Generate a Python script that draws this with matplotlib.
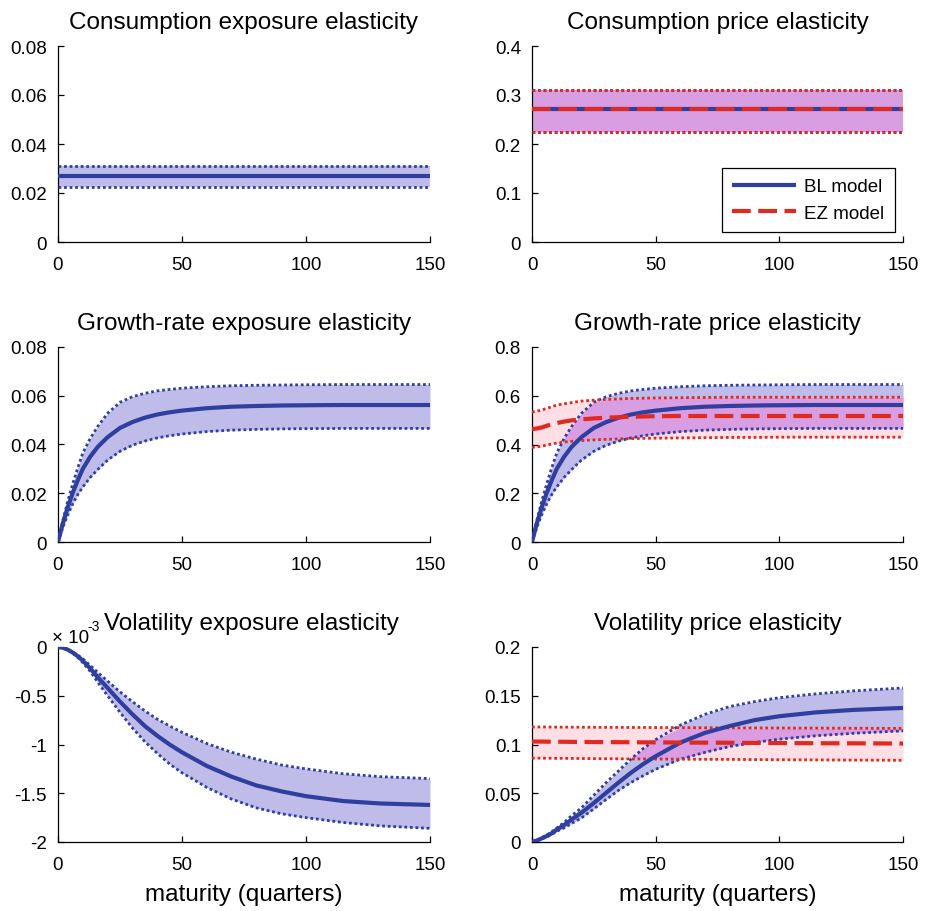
import numpy as np
import matplotlib
matplotlib.use("Agg")
import matplotlib.pyplot as plt
from matplotlib.ticker import FuncFormatter, FixedLocator

plt.rcParams['font.family'] = ['Liberation Sans', 'DejaVu Sans']
plt.rcParams['axes.unicode_minus'] = False

# ---------------- data ----------------
maturity = [0, 2, 4, 6, 8, 10, 13, 16, 20, 25, 30, 35, 40, 45, 50, 60, 70, 80, 90, 100, 115, 130, 150]
cons_maturity = [0, 150]

# Consumption exposure elasticity (BL)
cons_exp_mean = [0.0271, 0.0271]
cons_exp_upper = [0.0309, 0.0309]
cons_exp_lower = [0.0226, 0.0226]

# Consumption price elasticity (BL and EZ)
cons_price_bl_mean = [0.271, 0.271]
cons_price_bl_upper = [0.311, 0.311]
cons_price_bl_lower = [0.225, 0.225]
cons_price_ez_mean = [0.271, 0.271]
cons_price_ez_upper = [0.311, 0.311]
cons_price_ez_lower = [0.225, 0.225]

# Growth-rate exposure elasticity (BL)
growth_exp_mean = [0, 0.0078, 0.0145, 0.0203, 0.0254, 0.0300, 0.0350, 0.0390, 0.0430, 0.0468, 0.0492, 0.0510,
                   0.0523, 0.0532, 0.0539, 0.0549, 0.0555, 0.0558, 0.0560, 0.0561, 0.0562, 0.0562, 0.0562]
growth_exp_upper = [0, 0.0090, 0.0170, 0.0240, 0.0305, 0.0365, 0.0425, 0.0474, 0.0528, 0.0573, 0.0596, 0.0610,
                    0.0620, 0.0626, 0.0631, 0.0637, 0.0641, 0.0643, 0.0644, 0.0645, 0.0646, 0.0646, 0.0646]
growth_exp_lower = [0, 0.0062, 0.0113, 0.0158, 0.0195, 0.0226, 0.0265, 0.0297, 0.0336, 0.0372, 0.0397, 0.0414,
                    0.0427, 0.0436, 0.0443, 0.0453, 0.0459, 0.0462, 0.0464, 0.0465, 0.0466, 0.0466, 0.0466]

# Growth-rate price elasticity
growth_price_bl_mean = [0, 0.078, 0.145, 0.203, 0.254, 0.300, 0.350, 0.390, 0.430, 0.468, 0.492, 0.510,
                        0.523, 0.532, 0.539, 0.549, 0.555, 0.558, 0.560, 0.561, 0.562, 0.562, 0.562]
growth_price_bl_upper = [0, 0.090, 0.170, 0.240, 0.305, 0.365, 0.425, 0.474, 0.528, 0.573, 0.596, 0.610,
                         0.620, 0.626, 0.631, 0.637, 0.641, 0.643, 0.644, 0.645, 0.646, 0.646, 0.646]
growth_price_bl_lower = [0, 0.062, 0.113, 0.158, 0.195, 0.226, 0.265, 0.297, 0.336, 0.372, 0.397, 0.414,
                         0.427, 0.436, 0.443, 0.453, 0.459, 0.462, 0.464, 0.465, 0.466, 0.466, 0.466]
growth_price_ez_mean = [0.463, 0.466, 0.470, 0.477, 0.483, 0.488, 0.494, 0.499, 0.503, 0.507, 0.510, 0.512,
                        0.514, 0.515, 0.516, 0.517, 0.517, 0.517, 0.517, 0.517, 0.517, 0.517, 0.517]
growth_price_ez_upper = [0.533, 0.537, 0.542, 0.548, 0.555, 0.562, 0.567, 0.572, 0.578, 0.582, 0.585, 0.587,
                         0.589, 0.590, 0.591, 0.592, 0.593, 0.594, 0.594, 0.594, 0.594, 0.594, 0.594]
growth_price_ez_lower = [0.388, 0.390, 0.393, 0.398, 0.402, 0.406, 0.410, 0.413, 0.416, 0.419, 0.421, 0.423,
                         0.424, 0.425, 0.426, 0.427, 0.428, 0.429, 0.429, 0.430, 0.430, 0.430, 0.430]

# Volatility exposure elasticity (BL), in units of 1e-3
vol_exp_mean = [0, -0.008, -0.028, -0.058, -0.095, -0.14, -0.22, -0.31, -0.42, -0.56, -0.69, -0.81,
                -0.91, -1.00, -1.08, -1.22, -1.33, -1.42, -1.48, -1.53, -1.58, -1.605, -1.62]
vol_exp_upper = [0, -0.007, -0.025, -0.052, -0.085, -0.12, -0.19, -0.26, -0.35, -0.46, -0.56, -0.655,
                 -0.74, -0.81, -0.875, -0.99, -1.08, -1.15, -1.21, -1.25, -1.30, -1.33, -1.35]
vol_exp_lower = [0, -0.009, -0.031, -0.065, -0.108, -0.16, -0.25, -0.36, -0.50, -0.67, -0.83, -0.97,
                 -1.09, -1.20, -1.29, -1.44, -1.56, -1.65, -1.71, -1.75, -1.80, -1.835, -1.86]

# Volatility price elasticity
vol_price_bl_mean = [0, 0.0015, 0.0038, 0.0062, 0.0090, 0.0127, 0.0175, 0.023, 0.030, 0.040, 0.0505, 0.061,
                     0.071, 0.080, 0.088, 0.102, 0.112, 0.119, 0.125, 0.129, 0.133, 0.1355, 0.1375]
vol_price_bl_upper = [0, 0.0017, 0.0045, 0.0072, 0.0105, 0.0144, 0.020, 0.027, 0.035, 0.048, 0.061, 0.073,
                      0.085, 0.096, 0.105, 0.120, 0.131, 0.139, 0.144, 0.148, 0.152, 0.155, 0.158]
vol_price_bl_lower = [0, 0.0013, 0.0032, 0.0052, 0.0078, 0.0110, 0.0145, 0.019, 0.0247, 0.034, 0.0436, 0.053,
                      0.061, 0.068, 0.0746, 0.085, 0.092, 0.098, 0.102, 0.1055, 0.109, 0.1115, 0.114]
vol_price_ez_mean = [0.1030, 0.1030, 0.1030, 0.1029, 0.1029, 0.1028, 0.1028, 0.1027, 0.1026, 0.1025, 0.1024, 0.1024,
                     0.1023, 0.1022, 0.1022, 0.1020, 0.1019, 0.1018, 0.1016, 0.1015, 0.1013, 0.1012, 0.1010]
vol_price_ez_upper = [0.1180, 0.1180, 0.1180, 0.1179, 0.1179, 0.1178, 0.1178, 0.1178, 0.1177, 0.1177, 0.1176, 0.1176,
                      0.1175, 0.1175, 0.1174, 0.1173, 0.1172, 0.1171, 0.1170, 0.1169, 0.1168, 0.1167, 0.1165]
vol_price_ez_lower = [0.0860, 0.0860, 0.0860, 0.0859, 0.0859, 0.0858, 0.0858, 0.0857, 0.0856, 0.0855, 0.0854, 0.0853,
                      0.0852, 0.0852, 0.0851, 0.0849, 0.0848, 0.0847, 0.0845, 0.0844, 0.0842, 0.0840, 0.0838]

titles = ["Consumption exposure elasticity", "Consumption price elasticity",
          "Growth-rate exposure elasticity", "Growth-rate price elasticity",
          "Volatility exposure elasticity", "Volatility price elasticity"]
x_ticks = [0, 50, 100, 150]
y_ticks = [[0, 0.02, 0.04, 0.06, 0.08], [0, 0.1, 0.2, 0.3, 0.4],
           [0, 0.02, 0.04, 0.06, 0.08], [0, 0.2, 0.4, 0.6, 0.8],
           [-2, -1.5, -1, -0.5, 0], [0, 0.05, 0.1, 0.15, 0.2]]
xlabel = "maturity (quarters)"
legend_labels = ["BL model", "EZ model"]

# ---------------- style ----------------
BLUE = "#2e3f9f"
RED = "#e0291f"
LAV = "#c0bcea"
PINK = "#ffdfe6"
PURP = "#d99ee1"
TICK_FS = 13.5
TITLE_FS = 17.5

fig = plt.figure(figsize=(9.26, 9.12), dpi=100)
W, H = 926.0, 912.0
col_x = [(58, 430), (532, 903)]
row_y = [(47, 243), (348, 543), (648, 843)]
axes = []
for r in range(3):
    for c in range(2):
        x0, x1 = col_x[c]
        t, b = row_y[r]
        ax = fig.add_axes([x0 / W, (H - b) / H, (x1 - x0) / W, (b - t) / H])
        axes.append(ax)


def band(ax, x, lo, hi, fill):
    ax.fill_between(x, lo, hi, color=fill, linewidth=0, zorder=1)


def overlap(ax, x, lo1, hi1, lo2, hi2):
    lo = np.maximum(lo1, lo2)
    hi = np.minimum(hi1, hi2)
    ax.fill_between(x, lo, hi, where=hi >= lo, interpolate=True, color=PURP,
                    linewidth=0, zorder=2)


def dotted(ax, x, y, col):
    ax.plot(x, y, color=col, linestyle=(0, (1.0, 1.0)), linewidth=2.0, zorder=3)


def mean_bl(ax, x, y):
    return ax.plot(x, y, color=BLUE, linewidth=3.0, solid_capstyle='butt', zorder=4)[0]


def mean_ez(ax, x, y):
    return ax.plot(x, y, color=RED, linewidth=3.0, linestyle=(0, (4.5, 1.8)),
                   dash_capstyle='butt', zorder=5)[0]


def panel(ax, x, bl, ez=None):
    x = np.asarray(x, float)
    blm, blu, bll = [np.asarray(v, float) for v in bl]
    band(ax, x, bll, blu, LAV)
    if ez is not None:
        ezm, ezu, ezl = [np.asarray(v, float) for v in ez]
        band(ax, x, ezl, ezu, PINK)
        overlap(ax, x, bll, blu, ezl, ezu)
    dotted(ax, x, blu, BLUE)
    dotted(ax, x, bll, BLUE)
    if ez is not None:
        dotted(ax, x, ezu, RED)
        dotted(ax, x, ezl, RED)
    h1 = mean_bl(ax, x, blm)
    h2 = None
    if ez is not None:
        h2 = mean_ez(ax, x, ezm)
    return h1, h2


panel(axes[0], cons_maturity, (cons_exp_mean, cons_exp_upper, cons_exp_lower))
h_bl, h_ez = panel(axes[1], cons_maturity,
                   (cons_price_bl_mean, cons_price_bl_upper, cons_price_bl_lower),
                   (cons_price_ez_mean, cons_price_ez_upper, cons_price_ez_lower))
panel(axes[2], maturity, (growth_exp_mean, growth_exp_upper, growth_exp_lower))
panel(axes[3], maturity, (growth_price_bl_mean, growth_price_bl_upper, growth_price_bl_lower),
      (growth_price_ez_mean, growth_price_ez_upper, growth_price_ez_lower))
panel(axes[4], maturity, (vol_exp_mean, vol_exp_upper, vol_exp_lower))
panel(axes[5], maturity, (vol_price_bl_mean, vol_price_bl_upper, vol_price_bl_lower),
      (vol_price_ez_mean, vol_price_ez_upper, vol_price_ez_lower))

fmt = FuncFormatter(lambda v, p: ("%g" % round(v, 6)))
for i, ax in enumerate(axes):
    ax.set_xlim(0, 150)
    ax.set_ylim(y_ticks[i][0], y_ticks[i][-1])
    ax.xaxis.set_major_locator(FixedLocator(x_ticks))
    ax.yaxis.set_major_locator(FixedLocator(y_ticks[i]))
    ax.xaxis.set_major_formatter(fmt)
    ax.yaxis.set_major_formatter(fmt)
    for s in ['top', 'right']:
        ax.spines[s].set_visible(False)
    for s in ['left', 'bottom']:
        ax.spines[s].set_linewidth(0.9)
        ax.spines[s].set_color('black')
    ax.tick_params(direction='in', length=4, width=0.9, labelsize=TICK_FS,
                   colors='black')
    ax.tick_params(axis='x', pad=10)
    ax.tick_params(axis='y', pad=8)
    tx = 0.52 if i == 4 else 0.5
    ax.set_title(titles[i], fontsize=TITLE_FS, pad=13, x=tx)
    if i >= 4:
        ax.set_xlabel(xlabel, fontsize=TITLE_FS, labelpad=7)

# exponent label for volatility exposure panel
axes[4].annotate("\u00d7 10", xy=(-0.016, 1.025), xycoords='axes fraction',
                 fontsize=TICK_FS, ha='left', va='baseline')
axes[4].annotate("-3", xy=(0.08, 1.085), xycoords='axes fraction',
                 fontsize=10, ha='left', va='baseline')

leg = axes[1].legend([h_bl, h_ez], legend_labels, loc='lower right',
                     bbox_to_anchor=(0.978, 0.051), borderaxespad=0,
                     fontsize=TICK_FS, frameon=True, fancybox=False,
                     edgecolor='black', framealpha=1, handlelength=3.4,
                     handletextpad=0.45, labelspacing=0.5, borderpad=0.55)
leg.get_frame().set_linewidth(0.9)

fig.savefig("out.png", dpi=100, facecolor='white')
